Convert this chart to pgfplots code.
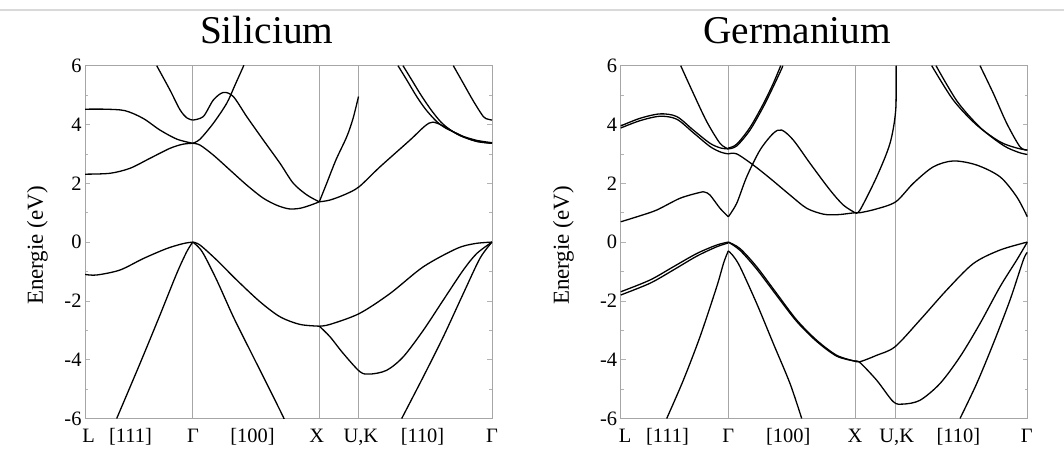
\documentclass[border=0pt]{standalone}
\usepackage{fontspec}
\setmainfont{Liberation Serif}
\usepackage{pgfplots}
\pgfplotsset{compat=1.18}
\pgfplotsset{
  bandaxis/.style={
    scale only axis, width=407bp, height=352.8bp, anchor=south west,
    xmin=0, xmax=407, ymin=-6, ymax=6,
    ytick={-6,-4,-2,0,2,4,6}, yticklabels={-6,-4,-2,0,2,4,6},
    minor y tick num=1,
    tick align=inside,
    major tick length=5bp, minor tick length=3bp,
    tick style={gray!60, line width=0.6bp},
    axis line style={gray!70, line width=0.7bp},
    xtick style={draw=none},
    xticklabel style={anchor=base, yshift=-24.5bp, font=\fontsize{20.5}{24}\selectfont},
    yticklabel style={font=\fontsize{20.5}{24}\selectfont},
    ylabel={Energie (eV)},
    every axis title/.style={anchor=base, font=\fontsize{39.5}{44}\selectfont},
    extra x tick labels={},
    extra x tick style={grid=major, major grid style={gray!70, line width=0.7bp}, tick style={draw=none}},
    cycle list={black,mark=none\\},
    every axis plot/.append style={line width=1.3bp, smooth},
  }
}
\begin{document}
\begin{tikzpicture}[x=1bp,y=1bp]
\useasboundingbox (0,0) rectangle (1064,450);
\fill[white] (0,0) rectangle (1064,450);
\draw[black!15, line width=1.2bp] (0,440) -- (1064,440);

% ---------------- Silicium ----------------
\begin{axis}[bandaxis, at={(85bp,31.5bp)},
  title={Silicium},
  every axis title/.append style={at={(0.4464,1)}, yshift=21.7bp},
  every axis y label/.style={at={(axis description cs:-0.1167,0.49)}, rotate=90, anchor=center, font=\fontsize{23}{26}\selectfont},
  xtick={3.5,45.5,108,167.5,231.7,275.8,337.5,407},
  xticklabels={L,{[111]},Γ,{[100]},X,{U,K},{[110]},Γ},
  extra x ticks={107.7,234.3,273.5},
]
% conduction L-Gamma
\addplot coordinates {(0,4.52)(20,4.52)(40,4.47)(58,4.21)(75,3.81)(92,3.5)(107.7,3.36)};
\addplot coordinates {(0,2.31)(25,2.34)(45,2.51)(65,2.85)(85,3.19)(98,3.33)(107.7,3.36)};
\addplot coordinates {(71.7,6)(85,5.17)(95,4.5)(102,4.22)(107.7,4.15)};
% conduction Gamma-X
\addplot coordinates {(107.7,4.15)(118.3,4.27)(128.3,4.83)(138.3,5.09)(148.3,4.95)(161.7,4.27)(178.3,3.47)(195,2.68)(208.3,2.0)(222,1.6)(234.3,1.37)};
\addplot coordinates {(107.7,3.36)(115,3.3)(128.3,2.96)(145,2.45)(161.7,1.94)(178,1.5)(192,1.25)(204,1.13)(215,1.15)(225,1.25)(234.3,1.37)};
\addplot coordinates {(107.7,3.36)(115,3.5)(128.3,4.04)(141.7,4.72)(150,5.34)(158.3,5.97)(158.5,6)};
% conduction X-U
\addplot coordinates {(234.3,1.37)(241.7,2.0)(251,2.8)(261.7,3.58)(268,4.2)(273.5,4.95)};
% conduction X-K-Gamma
\addplot coordinates {(234.3,1.37)(245,1.43)(260,1.62)(274,1.88)(295,2.56)(325,3.47)(340,3.95)(348,4.08)(360,3.92)(375,3.62)(392,3.42)(407,3.36)};
\addplot coordinates {(313,6)(322,5.5)(331.7,4.95)(341,4.5)(351.7,4.1)(361,3.87)(371.7,3.7)(381,3.55)(391.7,3.43)(407,3.36)};
\addplot coordinates {(318,6)(327,5.5)(336,5.0)(346,4.5)(356,4.08)(366,3.8)(376,3.62)(391.7,3.46)(407,3.38)};
\addplot coordinates {(368.3,6)(378.3,5.4)(388.3,4.8)(398.3,4.27)(403,4.18)(407,4.15)};
% valence L-Gamma
\addplot coordinates {(0,-1.1)(11.7,-1.12)(35,-0.95)(58.3,-0.56)(81.7,-0.22)(98.3,-0.05)(107.7,0)};
\addplot coordinates {(31.7,-6)(55,-4.13)(75,-2.48)(91.7,-1.07)(101.7,-0.33)(107.7,0)};
% valence Gamma-X
\addplot coordinates {(107.7,0)(115,-0.1)(131.7,-0.61)(151.7,-1.29)(175,-2.03)(195,-2.54)(215,-2.8)(234.3,-2.86)};
\addplot coordinates {(107.7,0)(112,-0.12)(118.3,-0.39)(131.7,-1.29)(148.3,-2.54)(165,-3.68)(181.7,-4.81)(198.3,-5.95)(198.4,-6)};
% valence X-K-Gamma
\addplot coordinates {(234.3,-2.86)(245,-2.8)(274.3,-2.43)(305,-1.75)(338.3,-0.84)(371.7,-0.22)(390,-0.05)(407,0)};
\addplot coordinates {(234.3,-2.86)(245,-3.22)(258.3,-3.79)(275,-4.41)(285,-4.49)(301.7,-4.36)(318.3,-3.9)(338.3,-3.0)(358.3,-1.97)(378.3,-0.95)(391.7,-0.39)(407,0)};
\addplot coordinates {(316.7,-6)(338.3,-4.58)(358.3,-3.22)(378.3,-1.75)(395,-0.55)(407,0)};
\end{axis}

% ---------------- Germanium ----------------
\begin{axis}[bandaxis, at={(620.7bp,31.5bp)},
  title={Germanium},
  every axis title/.append style={at={(0.4336,1)}, yshift=21.7bp},
  every axis y label/.style={at={(axis description cs:-0.1407,0.49)}, rotate=90, anchor=center, font=\fontsize{23}{26}\selectfont},
  xtick={4.3,46.8,107.6,167.6,234.3,276,337.7,406},
  xticklabels={L,{[111]},Γ,{[100]},X,{U,K},{[110]},Γ},
  extra x ticks={107.6,234.3,275},
]
% conduction L-Gamma
\addplot coordinates {(0,0.69)(18,0.88)(36,1.09)(59.3,1.49)(79.3,1.69)(84,1.7)(89.3,1.6)(99.3,1.15)(107.6,0.86)};
\addplot coordinates {(0,3.95)(19.3,4.21)(39.3,4.36)(56,4.27)(72.6,3.81)(89.3,3.36)(100,3.2)(107.6,3.17)};
\addplot coordinates {(0,3.88)(19.3,4.13)(39.3,4.28)(56,4.18)(72.6,3.72)(89.3,3.25)(100,3.06)(107.6,3.0)};
\addplot coordinates {(60,6)(72.6,5.06)(86,4.1)(99.3,3.36)(107.6,3.17)};
% conduction Gamma-X
\addplot coordinates {(107.6,0.86)(116,1.32)(126,2.22)(139.3,3.13)(152.6,3.7)(161,3.81)(172.6,3.47)(189.3,2.68)(209.3,1.77)(222.6,1.26)(234.3,1.0)};
\addplot coordinates {(107.6,3.0)(116,3.0)(132.6,2.62)(149.3,2.17)(169.3,1.6)(186,1.15)(202.6,0.95)(215,0.93)(222.6,0.95)(234.3,1.0)};
\addplot coordinates {(107.6,3.17)(116,3.27)(129.3,3.81)(142.6,4.6)(152.6,5.29)(161,5.9)(162,6)};
\addplot coordinates {(107.6,3.2)(116,3.33)(129.3,3.9)(142.6,4.7)(152.6,5.4)(160,6)};
% conduction X-U
\addplot coordinates {(234.3,1.0)(239.3,1.09)(256,2.22)(269.3,3.36)(275,4.49)(275.5,6)};
% conduction X-K-Gamma
\addplot coordinates {(234.3,1.0)(239.3,1.0)(255,1.12)(275,1.37)(292.6,2.0)(312.6,2.56)(332.6,2.76)(356,2.62)(379.3,2.22)(396,1.54)(406.6,0.86)};
\addplot coordinates {(311,6)(332.6,4.83)(356,3.98)(379.3,3.41)(396,3.2)(406.6,3.13)};
\addplot coordinates {(315.3,6)(336.6,4.78)(360,3.88)(383,3.28)(398,3.05)(406.6,2.98)};
\addplot coordinates {(359.3,6)(372.6,5.06)(386,4.04)(399.3,3.24)(406.6,3.13)};
% valence L-Gamma
\addplot coordinates {(0,-1.69)(29.3,-1.29)(52.6,-0.84)(76,-0.39)(96,-0.1)(107.6,0)};
\addplot coordinates {(0,-1.8)(29.3,-1.4)(52.6,-0.95)(76,-0.48)(96,-0.16)(107.6,-0.03)};
\addplot coordinates {(46,-6)(62.6,-4.7)(79.3,-3.22)(96,-1.52)(103,-0.7)(107.6,-0.3)};
% valence Gamma-X
\addplot coordinates {(107.6,-0.3)(112,-0.45)(119.3,-0.84)(136,-2.09)(152.6,-3.45)(169.3,-4.81)(181,-6)};
\addplot coordinates {(107.6,0)(119.3,-0.22)(136,-0.84)(156,-1.75)(176,-2.65)(196,-3.34)(216,-3.85)(234.3,-4.05)};
\addplot coordinates {(107.6,0)(119.3,-0.28)(136,-0.92)(156,-1.82)(176,-2.7)(196,-3.38)(216,-3.88)(234.3,-4.05)};
% valence X-K-Gamma
\addplot coordinates {(234.3,-4.05)(239.3,-4.07)(256,-3.85)(274.3,-3.56)(299.3,-2.65)(326,-1.63)(352.6,-0.73)(379.3,-0.27)(406.6,0)};
\addplot coordinates {(234.3,-4.05)(239.3,-4.1)(256,-4.7)(272.6,-5.43)(282.6,-5.51)(299.3,-5.38)(319.3,-4.81)(339.3,-3.9)(359.3,-2.77)(379.3,-1.52)(396,-0.61)(406.6,0)};
\addplot coordinates {(339.3,-6)(356,-4.81)(372.6,-3.45)(389.3,-1.97)(402.6,-0.61)(406.6,-0.35)};
\end{axis}
\end{tikzpicture}
\end{document}
